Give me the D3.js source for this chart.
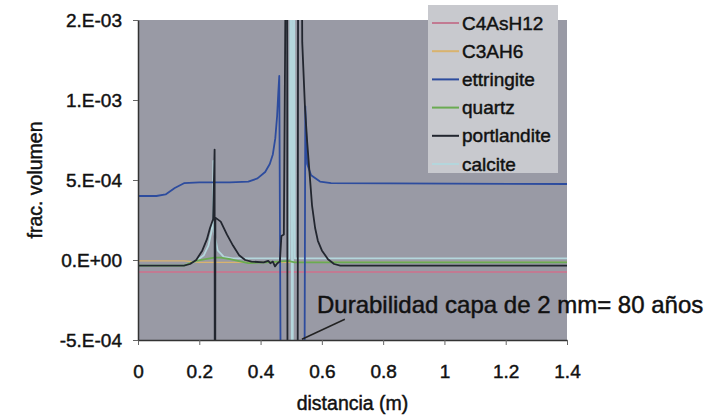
<!DOCTYPE html>
<html>
<head>
<meta charset="utf-8">
<script src="https://cdn.jsdelivr.net/npm/d3@7"></script>
<style>
  html, body { margin: 0; padding: 0; background: #ffffff; }
  svg { display: block; }
  text { font-family: "Liberation Sans", Arial, Helvetica, sans-serif; fill: #111;
         stroke: #111; stroke-width: 0.45px; }
</style>
</head>
<body>
<svg id="chart" width="713" height="416"></svg>
<script>
// ---- data (distance m, volume fraction) ----
const seriesNames = ["C4AsH12", "C3AH6", "ettringite", "quartz", "portlandite", "calcite"];

const C4AsH12 = [[0, -7.5e-5], [1.4, -7.5e-5]];

const C3AH6 = [[0, -5e-6], [0.15, -5e-6], [0.2, -1.5e-5], [1.4, -1.5e-5]];

const ettringite = [
  [0, 4.0e-4], [0.06, 4.0e-4], [0.09, 4.1e-4], [0.12, 4.5e-4], [0.15, 4.8e-4],
  [0.2, 4.85e-4], [0.3, 4.85e-4], [0.36, 4.9e-4], [0.39, 5.1e-4], [0.415, 5.5e-4],
  [0.43, 6.0e-4], [0.44, 6.6e-4], [0.448, 7.6e-4], [0.454, 9.0e-4], [0.458, 1.05e-3],
  [0.461, 1.15e-3], [0.471, -3e-3], [0.54, -3e-3], [0.546, 9.6e-4], [0.552, 6.0e-4],
  [0.565, 5.3e-4], [0.594, 4.9e-4], [0.63, 4.8e-4], [1.4, 4.75e-4]
];

const quartz = [
  [0, -3.5e-5], [0.15, -3.5e-5], [0.17, -2e-5], [0.19, -5e-6], [0.22, 5e-6],
  [0.25, 1.5e-5], [0.27, 1.5e-5], [0.3, 5e-6], [0.36, -2e-5], [0.42, -1.5e-5],
  [0.46, -1e-5], [0.49, -5e-6], [0.511, -1.5e-5], [1.4, -1.5e-5]
];

const portlandite = [
  [0, -3.5e-5], [0.15, -3.5e-5], [0.17, -2.5e-5], [0.19, 0], [0.21, 6e-5],
  [0.225, 1.3e-4], [0.235, 2.0e-4], [0.245, 2.55e-4], [0.25, 6.9e-4], [0.2512, -3e-3],
  [0.2525, 2.65e-4], [0.27, 2.4e-4], [0.29, 1.6e-4], [0.31, 9e-5], [0.33, 3e-5],
  [0.35, 0], [0.37, -1e-5], [0.41, -1.5e-5], [0.425, -5e-6], [0.432, -2e-5],
  [0.44, -1e-5], [0.447, -4e-5], [0.455, -2e-5], [0.463, -1e-5], [0.468, 1.5e-4],
  [0.476, 1.6e-4], [0.486, 3e-3], [0.489, -3e-3], [0.52, -3e-3], [0.523, 3e-3],
  [0.532, 3e-3], [0.536, 1.36e-3], [0.545, 9.5e-4], [0.552, 7.4e-4], [0.56, 5.4e-4],
  [0.568, 3.4e-4], [0.578, 2.0e-4], [0.587, 1.2e-4], [0.60, 6e-5], [0.62, 5e-6],
  [0.64, -2.5e-5], [0.66, -3.5e-5], [1.4, -3.5e-5]
];

const calcite = [
  [0, -3.5e-5], [0.15, -3.5e-5], [0.19, -5e-6], [0.215, 3e-5], [0.23, 9e-5],
  [0.24, 1.8e-4], [0.2445, 2.4e-4], [0.246, 6.2e-4], [0.2475, 1.8e-4], [0.26, 6e-5],
  [0.28, 2e-5], [0.31, 1e-5], [0.45, 1e-5], [0.494, 1e-5], [0.5, 3e-3],
  [0.503, -3e-3], [0.508, 3e-3], [0.512, 1e-5], [1.4, 1e-5]
];

const xTicks = [0, 0.2, 0.4, 0.6, 0.8, 1, 1.2, 1.4];
const xTickLabels = ["0", "0.2", "0.4", "0.6", "0.8", "1", "1.2", "1.4"];
const yTicks = [-5e-4, 0, 5e-4, 1e-3, 1.5e-3];
const yTickLabels = ["-5.E-04", "0.E+00", "5.E-04", "1.E-03", "2.E-03"];

const xTitle = "distancia (m)";
const yTitle = "frac. volumen";
const annotationText = "Durabilidad capa de 2 mm= 80 años";

// ---- drawing ----
const svg = d3.select("#chart");
const L = 138, R = 567, T = 20, B = 340;
const x = d3.scaleLinear().domain([0, 1.4]).range([L, R]);
const y = d3.scaleLinear().domain([-5e-4, 1.5e-3]).range([B, T]);

const colors = {
  C4AsH12: "#c27a92",
  C3AH6: "#d9b36e",
  ettringite: "#2d4c9e",
  quartz: "#6aab52",
  portlandite: "#22262f",
  calcite: "#b4d6dc"
};
const data = { C4AsH12, C3AH6, ettringite, quartz, portlandite, calcite };

// plot background
svg.append("rect").attr("x", L).attr("y", T).attr("width", R - L).attr("height", B - T)
  .attr("fill", "#999aa5");

svg.append("defs").append("clipPath").attr("id", "clip")
  .append("rect").attr("x", L).attr("y", T).attr("width", R - L).attr("height", B - T);

const line = d3.line().x(d => x(d[0])).y(d => y(d[1]));
const drawOrder = ["C4AsH12", "C3AH6", "calcite", "quartz", "ettringite", "portlandite"];
const g = svg.append("g").attr("clip-path", "url(#clip)");
drawOrder.forEach(name => {
  g.append("path").datum(data[name])
    .attr("fill", "none")
    .attr("stroke", colors[name])
    .attr("stroke-width", name === "C3AH6" ? 1.2 : 1.8)
    .attr("stroke-linejoin", "round")
    .attr("d", line);
});

// axes
const xAxis = d3.axisBottom(x).tickValues(xTicks).tickSize(5).tickSizeOuter(0)
  .tickFormat((d, i) => xTickLabels[i]);
const gx = svg.append("g").attr("transform", `translate(0,${B})`).call(xAxis);
gx.select(".domain").attr("stroke", "#333").attr("stroke-width", 1.5);
gx.selectAll(".tick line").attr("stroke", "#666");
gx.selectAll(".tick text").attr("dy", 0).attr("y", 38).style("font-size", "19px").attr("fill", "#111");

const yAxis = d3.axisLeft(y).tickValues(yTicks).tickSize(5).tickSizeOuter(0)
  .tickFormat((d, i) => yTickLabels[i]);
const gy = svg.append("g").attr("transform", `translate(${L},0)`).call(yAxis);
gy.select(".domain").attr("stroke", "#333").attr("stroke-width", 1.5);
gy.selectAll(".tick line").attr("stroke", "#666");
gy.selectAll(".tick text").attr("x", -16).style("font-size", "19px").attr("fill", "#111");

// axis titles
svg.append("text").attr("x", (L + R) / 2).attr("y", 410).attr("text-anchor", "middle")
  .style("font-size", "19.5px").text(xTitle);
svg.append("text").attr("transform", `translate(42,${(T + B) / 2}) rotate(-90)`)
  .attr("text-anchor", "middle").style("font-size", "19.5px").text(yTitle);

// legend
const lg = svg.append("g");
lg.append("rect").attr("x", 428).attr("y", 5).attr("width", 130).attr("height", 168)
  .attr("fill", "#c8c9ce");
seriesNames.forEach((name, i) => {
  const cy = 23 + i * 28.2;
  lg.append("line").attr("x1", 432).attr("x2", 459).attr("y1", cy).attr("y2", cy)
    .attr("stroke", colors[name]).attr("stroke-width", 2);
  lg.append("text").attr("x", 462).attr("y", cy).attr("dy", "0.35em")
    .style("font-size", "19px").text(name);
});

// annotation
svg.append("line")
  .attr("x1", x(0.535)).attr("y1", y(-4.95e-4))
  .attr("x2", x(0.675)).attr("y2", y(-3.7e-4))
  .attr("stroke", "#222").attr("stroke-width", 1.5);
svg.append("text").attr("x", 317).attr("y", 313).style("font-size", "24px").text(annotationText);
</script>
</body>
</html>
